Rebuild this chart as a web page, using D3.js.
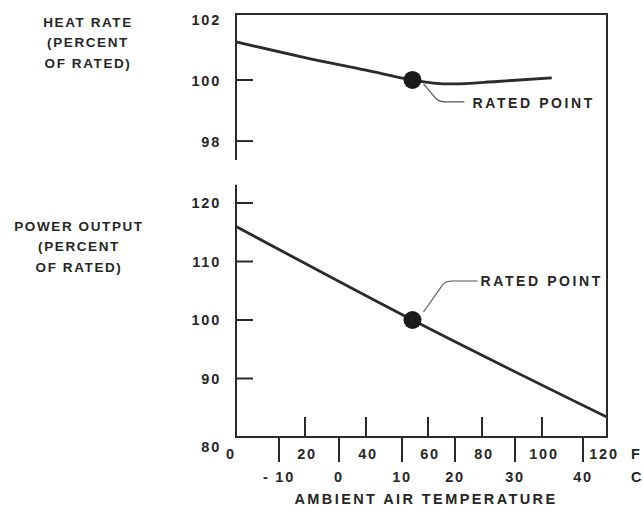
<!DOCTYPE html>
<html>
<head>
<meta charset="utf-8">
<script src="https://cdn.jsdelivr.net/npm/d3@7"></script>
<style>
  body { margin: 0; background: #fff; }
  text { font-family: "Liberation Sans", Arial, sans-serif; font-weight: bold; fill: #262626; }
</style>
</head>
<body>
<svg id="chart" width="643" height="509"></svg>
<script>
// values (temperature in deg F)
let heatRateTemp = [0, 19, 40, 55, 62, 69, 85, 103];
let heatRate = [101.25, 100.76, 100.32, 100, 99.9, 99.87, 99.95, 100.07];
let powerTemp = [0, 55, 120];
let powerOut = [116, 100, 83.4];
let ratedTemp = 55;
let ratedHeat = 100;
let ratedPower = 100;

let fTicks = [20, 40, 60, 80, 100];
let fLabels = [0, 20, 40, 60, 80, 100, 120];
let cTicks = [-10, 0, 10, 20, 30, 40];
let heatTicks = [98, 100];
let heatLabels = [98, 100, 102];
let powerTicks = [90, 100, 110, 120];
let powerLabels = [80, 90, 100, 110, 120];

let svg = d3.select("#chart");
let ink = "#2a2a2a";

let left = 236, right = 607;
// the printed F axis is hand-ruled and a little uneven; follow it piece by piece
let x = d3.scaleLinear().domain(fLabels).range([left, 305, 366, 428, 482, 542, right]);
// the celsius row of the original is not to scale with the F row; follow the picture
let xc = d3.scaleLinear().domain([-10, 0, 10, 20, 30, 40]).range([279, 339, 402, 455, 515, 583]);
let yHeat = d3.scaleLinear().domain([97.38, 102.16]).range([160, 14]);
let yPower = d3.scaleLinear().domain([80, 120]).range([437, 203]);
let frameTop = yHeat(102.16), base = yPower(80);

// frame
let frame = svg.append("g").attr("stroke", ink).attr("stroke-width", 2).attr("fill", "none");
frame.append("path").attr("d", `M${left},${yHeat(97.38)} V${frameTop} H${right} V${base} H${left} V${yPower(123.1)}`);

// y ticks (inward)
frame.selectAll("line.hy").data(heatTicks).enter().append("line")
  .attr("x1", left).attr("x2", left + 17)
  .attr("y1", d => yHeat(d)).attr("y2", d => yHeat(d));
frame.selectAll("line.py").data(powerTicks).enter().append("line")
  .attr("x1", left).attr("x2", left + 17)
  .attr("y1", d => yPower(d)).attr("y2", d => yPower(d));

// x ticks: F inward, C outward
frame.selectAll("line.fx").data(fTicks).enter().append("line")
  .attr("x1", d => x(d)).attr("x2", d => x(d))
  .attr("y1", base).attr("y2", base - 20);
frame.selectAll("line.cx").data(cTicks).enter().append("line")
  .attr("x1", d => xc(d)).attr("x2", d => xc(d))
  .attr("y1", base).attr("y2", base + 25);

let labels = svg.append("g").style("font-size", "14.5px").style("letter-spacing", "1.8px");

labels.selectAll("text.hl").data(heatLabels).enter().append("text")
  .text(d => d)
  .attr("x", 221).attr("y", d => yHeat(d) + 1)
  .attr("text-anchor", "end").attr("dominant-baseline", "central");
labels.selectAll("text.pl").data(powerLabels).enter().append("text")
  .text(d => d)
  .attr("x", 221).attr("y", d => yPower(d) + (d === 80 ? 10 : 0))
  .attr("text-anchor", "end").attr("dominant-baseline", "central");

labels.selectAll("text.fl").data(fLabels).enter().append("text")
  .text(d => d)
  .attr("x", d => x(d) + (d === 0 ? -5 : d === 120 ? -3 : 2)).attr("y", base + 17)
  .attr("text-anchor", "middle").attr("dominant-baseline", "central");
labels.selectAll("text.cl").data(cTicks).enter().append("text")
  .text(d => d < 0 ? "- " + Math.abs(d) : d)
  .attr("x", d => xc(d)).attr("y", base + 40)
  .attr("text-anchor", "middle").attr("dominant-baseline", "central");
labels.append("text").text("F").attr("x", 631).attr("y", base + 17).attr("dominant-baseline", "central");
labels.append("text").text("C").attr("x", 631).attr("y", base + 40).attr("dominant-baseline", "central");

svg.append("text").text("AMBIENT AIR TEMPERATURE")
  .attr("x", 426).attr("y", 499)
  .attr("text-anchor", "middle").attr("dominant-baseline", "central")
  .style("font-size", "14.5px").style("letter-spacing", "2.4px");

// left titles
let titles = svg.append("g").style("font-size", "13.5px").style("letter-spacing", "1.6px")
  .attr("text-anchor", "middle");
titles.selectAll("text.h").data(["HEAT RATE", "(PERCENT", "OF RATED)"]).enter().append("text")
  .text(d => d).attr("x", 88).attr("y", (d, i) => 22 + i * 20.5).attr("dominant-baseline", "central");
titles.selectAll("text.p").data(["POWER OUTPUT", "(PERCENT", "OF RATED)"]).enter().append("text")
  .text(d => d).attr("x", 79).attr("y", (d, i) => 226 + i * 20.5).attr("dominant-baseline", "central");

// curves
let heatLine = d3.line().x(d => x(d[0])).y(d => yHeat(d[1])).curve(d3.curveMonotoneX);
let powerLine = d3.line().x(d => x(d[0])).y(d => yPower(d[1])).curve(d3.curveMonotoneX);

svg.append("path").datum(d3.zip(heatRateTemp, heatRate))
  .attr("d", heatLine).attr("fill", "none").attr("stroke", ink).attr("stroke-width", 2.8);
svg.append("path").datum(d3.zip(powerTemp, powerOut))
  .attr("d", powerLine).attr("fill", "none").attr("stroke", ink).attr("stroke-width", 2.8);

// rated points and leaders
let hx = x(ratedTemp), hy = yHeat(ratedHeat);
let px = x(ratedTemp), py = yPower(ratedPower);

svg.append("path")
  .attr("d", `M${hx + 11},${hy + 4} L${hx + 22},${hy + 17} Q${hx + 26},${hy + 22} ${hx + 33},${hy + 22} L${hx + 52},${hy + 22}`)
  .attr("fill", "none").attr("stroke", "#555").attr("stroke-width", 1.2);
svg.append("path")
  .attr("d", `M${px + 11},${py - 8} L${px + 30},${py - 35} Q${px + 33},${py - 39} ${px + 40},${py - 39} L${px + 65},${py - 39}`)
  .attr("fill", "none").attr("stroke", "#555").attr("stroke-width", 1.2);

svg.selectAll("circle.rated").data([[hx, hy], [px, py]]).enter().append("circle")
  .attr("cx", d => d[0]).attr("cy", d => d[1]).attr("r", 9).attr("fill", "#1a1a1a");

let notes = svg.append("g").style("font-size", "14px").style("letter-spacing", "2.6px");
notes.append("text").text("RATED POINT").attr("x", hx + 60).attr("y", hy + 23).attr("dominant-baseline", "central");
notes.append("text").text("RATED POINT").attr("x", px + 68).attr("y", py - 39).attr("dominant-baseline", "central");
</script>
</body>
</html>
